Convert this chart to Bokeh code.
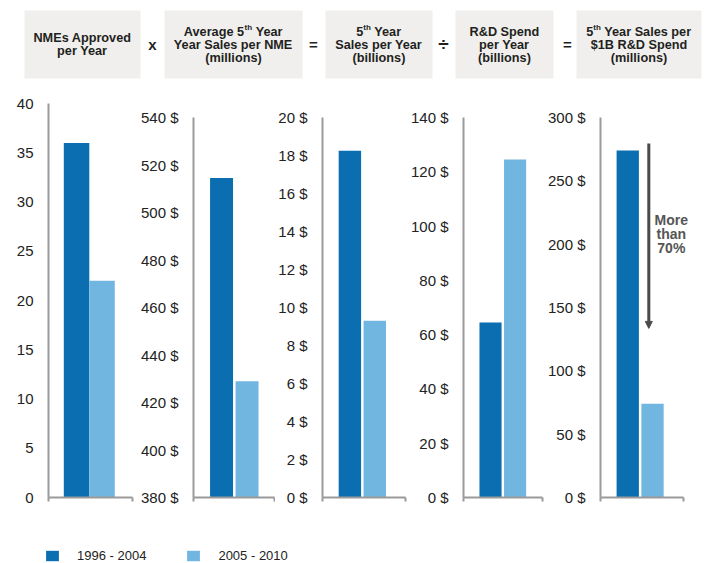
from bokeh.plotting import figure
from bokeh.layouts import column, row
from bokeh.models import Range1d, FixedTicker, Arrow, NormalHead, Label, Legend, LegendItem
from bokeh.core.properties import value
from bokeh.embed import file_html
from bokeh.resources import INLINE

# ---------------- data ----------------
series = ["1996 - 2004", "2005 - 2010"]
colors = ["#0a6eb0", "#70b6e0"]

headers = [
    ["NMEs Approved", "per Year"],
    ["Average 5^th Year", "Year Sales per NME", "(millions)"],
    ["5^th Year", "Sales per Year", "(billions)"],
    ["R&D Spend", "per Year", "(billions)"],
    ["5^th Year Sales per", "$1B R&D Spend", "(millions)"],
]
operators = ["x", "=", "\u00f7", "="]

nmes_approved = [36, 22]
avg_sales_per_nme = [514.5, 429]
sales_per_year = [18.25, 9.3]
rd_spend = [64.5, 124.5]
sales_per_1b_rd = [274, 74]

ticks_nmes = [0, 5, 10, 15, 20, 25, 30, 35, 40]
ticks_avg = [380, 400, 420, 440, 460, 480, 500, 520, 540]
ticks_sales = [0, 2, 4, 6, 8, 10, 12, 14, 16, 18, 20]
ticks_rd = [0, 20, 40, 60, 80, 100, 120, 140]
ticks_per = [0, 50, 100, 150, 200, 250, 300]

labels_nmes = [str(t) for t in ticks_nmes]
labels_avg = [f"{t} $" for t in ticks_avg]
labels_sales = [f"{t} $" for t in ticks_sales]
labels_rd = [f"{t} $" for t in ticks_rd]
labels_per = [f"{t} $" for t in ticks_per]

annotation_text = ["More", "than", "70%"]

# ---------------- styling ----------------
FONT = "Liberation Sans"
TXT = "#222222"
AXIS = "#9a9a9a"
UNIT = 25.5   # px per bar slot
ROW_H = 410
TOP, FRAME_H = 8, 394   # frame spans page y 103..497


def tw(s, size, widths):
    return sum(widths.get(c, 556) for c in s) * size / 1000.0


# Arial / Liberation Sans Bold advance widths (per 1000 em)
BW = {' ': 278, 'A': 722, 'v': 556, 'e': 556, 'r': 389, 'a': 556, 'g': 611, '5': 556,
      't': 333, 'h': 611, 'Y': 667, 'S': 667, 'l': 278, 's': 556, 'p': 611, 'N': 722,
      'M': 833, 'E': 667, '$': 556, '1': 556, 'B': 722, 'R': 722, '&': 722, 'D': 722,
      'n': 611, 'd': 611, '(': 333, ')': 333, 'm': 889, 'i': 278, 'o': 611, 'b': 611,
      'y': 556}


def panel(values, ticks, labels, L, fw, R, axis_px, bar_w, axis_w=None):
    """axis_px: pixel length of the value axis (top tick to baseline)."""
    axis_w = fw if axis_w is None else axis_w
    xr = Range1d(-1.1, -1.1 + fw / UNIT)
    span = ticks[-1] - ticks[0]
    yr = Range1d(ticks[0], ticks[0] + span * FRAME_H / axis_px)
    p = figure(width=L + fw + R, height=ROW_H, x_range=xr, y_range=yr,
               output_backend="svg", toolbar_location=None,
               min_border_left=L, min_border_right=R, min_border_top=TOP,
               min_border_bottom=ROW_H - TOP - FRAME_H)
    p.vbar(x=list(range(len(series))), top=values, bottom=ticks[0], width=bar_w,
           fill_color=colors, line_color=None)
    ya = p.yaxis[0]
    ya.bounds = (ticks[0], ticks[-1])
    ya.ticker = FixedTicker(ticks=ticks)
    ya.major_label_overrides = {t: lab for t, lab in zip(ticks, labels)}
    ya.major_tick_line_color = None
    ya.minor_tick_line_color = None
    ya.axis_line_color = AXIS
    ya.axis_line_width = 2
    ya.major_label_standoff = 9
    ya.major_label_text_font_size = "15px"
    ya.major_label_text_font = FONT
    ya.major_label_text_color = TXT
    xa = p.xaxis[0]
    x_end = xr.start + axis_w / UNIT
    xa.bounds = (xr.start, x_end)
    xa.ticker = FixedTicker(ticks=[], minor_ticks=[xr.start, x_end])
    xa.major_tick_line_color = None
    xa.minor_tick_out = 4
    xa.minor_tick_in = 0
    xa.minor_tick_line_color = AXIS
    xa.minor_tick_line_width = 2
    xa.axis_line_color = AXIS
    xa.axis_line_width = 2
    p.grid.visible = False
    p.outline_line_color = None
    return p


p1 = panel(nmes_approved, ticks_nmes, labels_nmes, 48, 84, 4, 394, 1.0)
p2 = panel(avg_sales_per_nme, ticks_avg, labels_avg, 57, 81, 1, 380, 0.9)
p3 = panel(sales_per_year, ticks_sales, labels_sales, 45, 85, 2, 380, 0.9)
p4 = panel(rd_spend, ticks_rd, labels_rd, 53, 82, 2, 380, 0.9)
p5 = panel(sales_per_1b_rd, ticks_per, labels_per, 53, 105, 0, 380, 0.9, axis_w=85)

# annotation: arrow + text
p5.add_layout(Arrow(end=NormalHead(size=7, fill_color="#4a4a4a", line_color="#4a4a4a"),
                    x_start=0.85, y_start=279.5, x_end=0.85, y_end=133.5,
                    line_color="#4a4a4a", line_width=3))
for i, t in enumerate(annotation_text):
    p5.add_layout(Label(x=1.76, y=218.7 - i * 11.05, text=t, text_align="center",
                        text_baseline="middle", text_font_size="14px",
                        text_font_style="bold", text_color="#555555", text_font=FONT))

# ---------------- header ----------------
hp = figure(width=702, height=95, x_range=Range1d(0, 702), y_range=Range1d(95, 0),
            output_backend="svg", toolbar_location=None, min_border=0,
            x_axis_location=None, y_axis_location=None)
hp.grid.visible = False
hp.outline_line_color = None

box_l = [24, 164, 325, 455, 576]
box_r = [140, 302, 432, 553, 701]
hp.quad(left=box_l, right=box_r, top=10, bottom=78, fill_color="#f0efee", line_color=None)

MAIN, SUP = 12.7, 8.0
mx, my, mt, sx, sy, st = [], [], [], [], [], []
for i, lines in enumerate(headers):
    cx = (box_l[i] + box_r[i]) / 2.0
    n = len(lines)
    y0 = 44 - (n - 1) * 6.5
    for j, line in enumerate(lines):
        y = y0 + 13 * j
        segs = []
        parts = line.split("^")
        segs.append((parts[0], False))
        for part in parts[1:]:
            segs.append((part[:2], True))
            segs.append((part[2:], False))
        total = sum(tw(s, SUP if sup else MAIN, BW) for s, sup in segs)
        x = cx - total / 2.0
        for s, sup in segs:
            if not s:
                continue
            size = SUP if sup else MAIN
            lead = len(s) - len(s.lstrip(" "))
            x += tw(" " * lead, size, BW)
            s2 = s.strip(" ")
            if sup:
                sx.append(x); sy.append(y - 4); st.append(s2)
            else:
                mx.append(x); my.append(y); mt.append(s2)
            x += tw(s.lstrip(" "), size, BW)

hp.text(x=mx, y=my, text=mt, text_align="left", text_baseline="middle",
        text_font=value(FONT), text_font_size="12.7px", text_font_style="bold",
        text_color="#231f20")
hp.text(x=sx, y=sy, text=st, text_align="left", text_baseline="middle",
        text_font=value(FONT), text_font_size="8px", text_font_style="bold",
        text_color="#231f20")
op_x = [152, 313, 443, 567]
op_size = ["15px", "15px", "19px", "15px"]
hp.text(x=op_x, y=[44] * len(operators), text=operators, text_align="center",
        text_baseline="middle", text_font=value(FONT), text_font_size=op_size,
        text_font_style="bold", text_color="#231f20")

# ---------------- legend ----------------
lp = figure(width=702, height=58, x_range=Range1d(0, 1), y_range=Range1d(0, 1),
            output_backend="svg", toolbar_location=None, min_border=0,
            x_axis_location=None, y_axis_location=None)
lp.grid.visible = False
lp.outline_line_color = None
items = []
for s, c in zip(series, colors):
    r = lp.vbar(x=[5], top=[1], width=0.1, fill_color=c, line_color=None)
    items.append(LegendItem(label=s, renderers=[r]))
legend = Legend(items=items, location=(44, 0), orientation="horizontal",
                glyph_width=16, glyph_height=13, label_standoff=17, spacing=39,
                padding=0, margin=0, border_line_color=None, background_fill_alpha=0,
                label_text_font_size="13px", label_text_font=FONT,
                label_text_color=TXT, label_height=16)
lp.add_layout(legend)

layout = column(hp, row(p1, p2, p3, p4, p5), lp)
open("out.html", "w").write(file_html(layout, INLINE))
